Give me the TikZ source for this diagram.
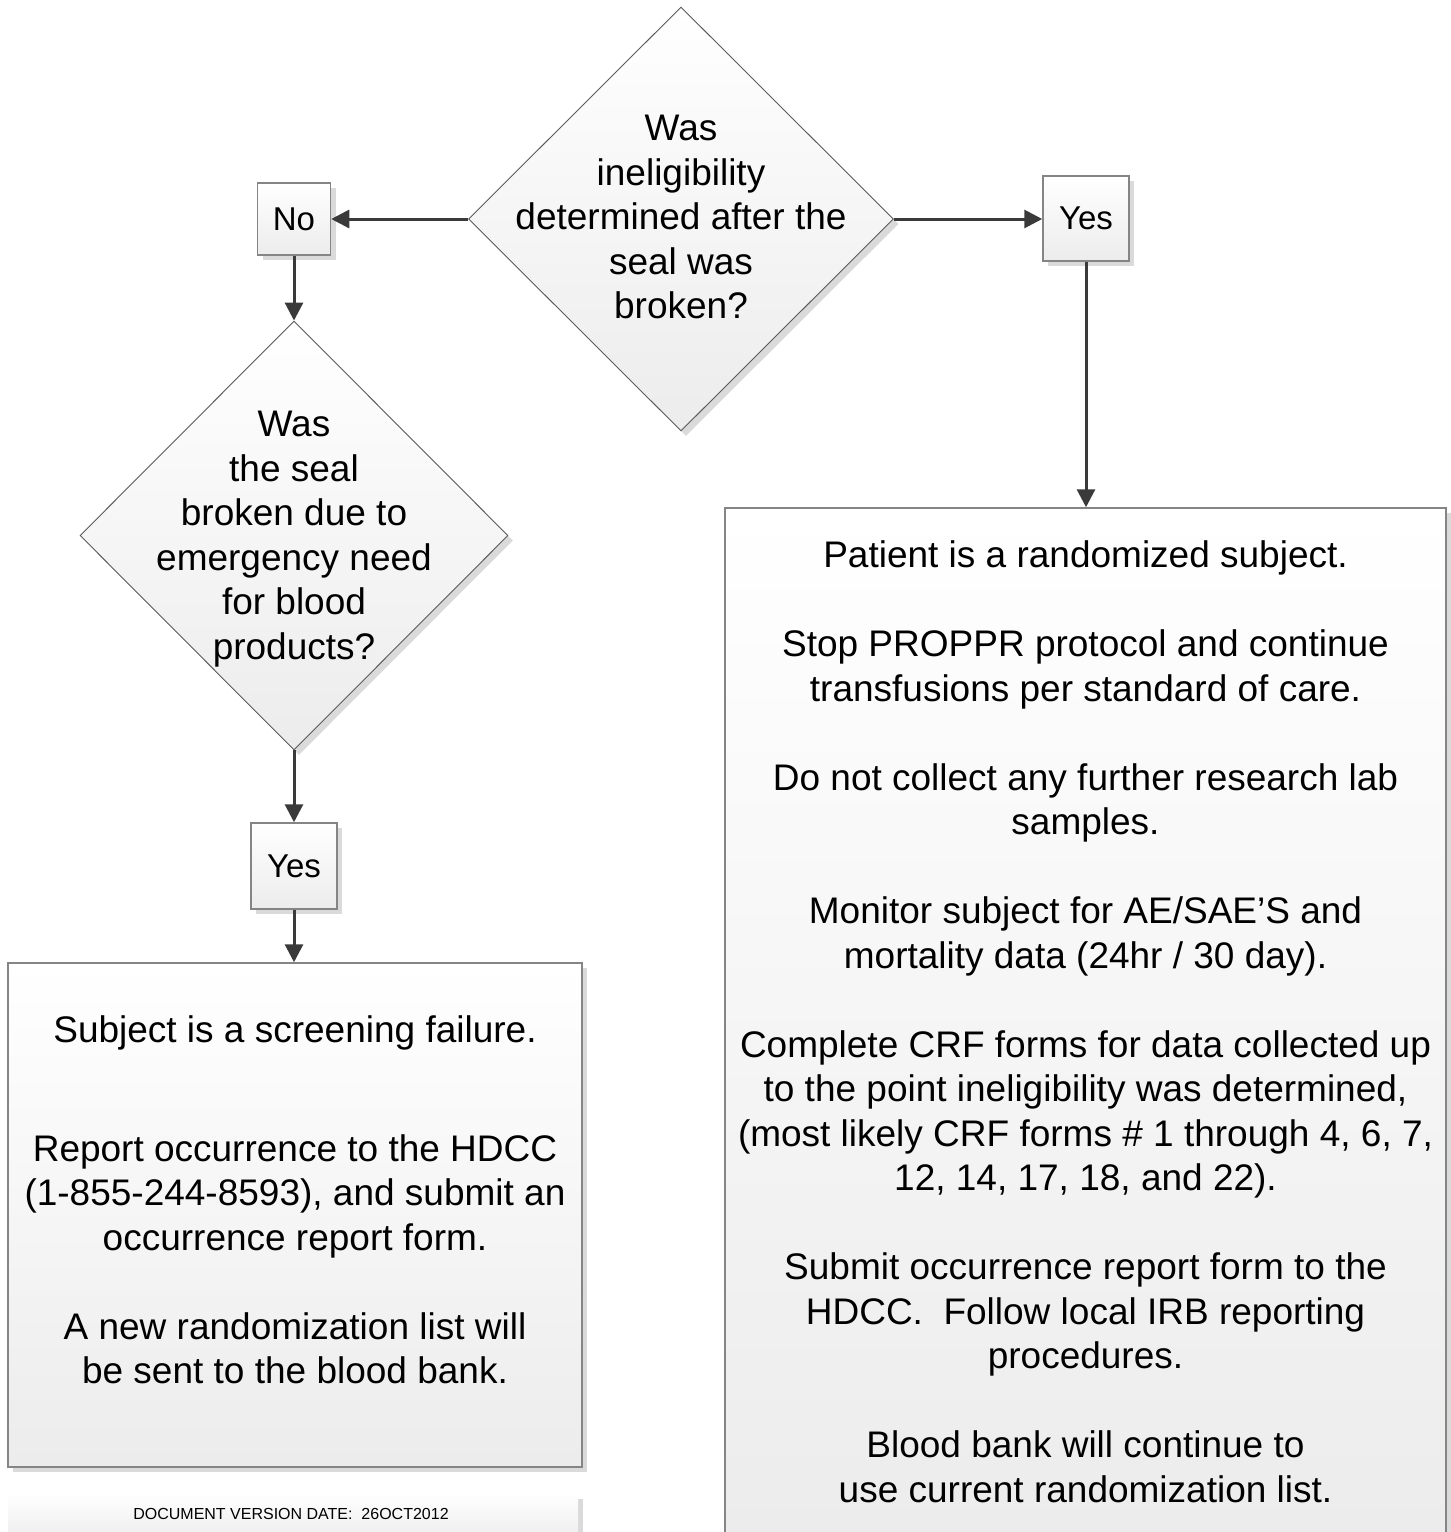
\documentclass[tikz,border=0pt]{standalone}
\usepackage{fontspec}
\setmainfont{Liberation Sans}
\usetikzlibrary{shapes.geometric,arrows.meta,shadows}

\definecolor{linegray}{HTML}{3A3A3A}
\definecolor{edgegray}{HTML}{858585}
\definecolor{diamondedge}{HTML}{5A5A5A}
\definecolor{boxgray}{HTML}{ECECEC}
\definecolor{shadowgray}{HTML}{DADADA}

\begin{document}
\begin{tikzpicture}[x=1pt,y=-1pt,
  flow/.style={draw=linegray, line width=3pt, -{Triangle[length=18pt,width=18pt]}},
  shaded/.style={top color=white, bottom color=boxgray},
  boxshadow/.style={drop shadow={shadow xshift=5pt, shadow yshift=-5pt, fill=shadowgray, opacity=1}},
  stepbox/.style={rectangle, draw=edgegray, line width=1.5pt, shaded, boxshadow, inner sep=0pt},
  labelbox/.style={stepbox, font=\fontsize{33}{40}\selectfont},
  decision/.style={diamond, draw=diamondedge, line width=0.9pt, shaded, boxshadow, inner sep=0pt},
  body/.style={align=center, font=\fontsize{37}{44.5}\selectfont, inner sep=0pt},
]
\useasboundingbox (0,0) rectangle (1451,1532);

% decision shapes
\node[decision, minimum width=425pt, minimum height=424pt] (d1) at (681,219) {};
\node[body] (d1text) at (681,217) {Was\\ineligibility\\determined after the\\seal was\\broken?};

\node[decision, minimum width=428pt, minimum height=429pt] (d2) at (294,535.5) {};
\node[body] (d2text) at (294,539) {Was\\the seal\\broken due to\\emergency need\\for blood\\products?};

% answer labels
\node[labelbox, minimum width=73pt, minimum height=72pt] (no) at (294,219) {No};
\node[labelbox, minimum width=86pt, minimum height=85pt] (yesR) at (1086,218.5) {Yes};
\node[labelbox, minimum width=86pt, minimum height=86pt] (yesL) at (294,866) {Yes};

% outcome boxes
\node[stepbox, minimum width=574pt, minimum height=504pt] (left) at (295,1215) {};
\node[body] (lefttext) at (295,1200) {Subject is a screening failure.\\[74pt]
Report occurrence to the HDCC\\(1-855-244-8593), and submit an\\occurrence report form.\\[44.5pt]
A new randomization list will\\be sent to the blood bank.};

\node[stepbox, minimum width=721pt, minimum height=1028pt] (right) at (1085.5,1022) {};
\node[body] (righttext) at (1085.5,1022) {Patient is a randomized subject.\\[44.5pt]
Stop PROPPR protocol and continue\\transfusions per standard of care.\\[44.5pt]
Do not collect any further research lab\\samples.\\[44.5pt]
Monitor subject for AE/SAE’S and\\mortality data (24hr / 30 day).\\[44.5pt]
Complete CRF forms for data collected up\\to the point ineligibility was determined,\\(most likely CRF forms \# 1 through 4, 6, 7,\\12, 14, 17, 18, and 22).\\[44.5pt]
Submit occurrence report form to the\\HDCC.\ \ Follow local IRB reporting\\procedures.\\[44.5pt]
Blood bank will continue to\\use current randomization list.};

% version footer
\node[rectangle, shaded, boxshadow, minimum width=570pt, minimum height=46pt, inner sep=0pt] (footer) at (293,1517) {};
\node[font=\fontsize{16}{19}\selectfont, inner sep=0pt] (footertext) at (291,1514) {DOCUMENT VERSION DATE:\ \ 26OCT2012};

% connectors
\draw[flow] (d1.west) -- (no.east);
\draw[flow] (d1.east) -- (d1.east -| yesR.west);
\draw[flow] (no.south) -- (d2.north);
\draw[flow] (d2.south) -- (yesL.north);
\draw[flow] (yesL.south) -- (yesL.south |- left.north);
\draw[flow] (yesR.south) -- (yesR.south |- right.north);
\end{tikzpicture}
\end{document}
